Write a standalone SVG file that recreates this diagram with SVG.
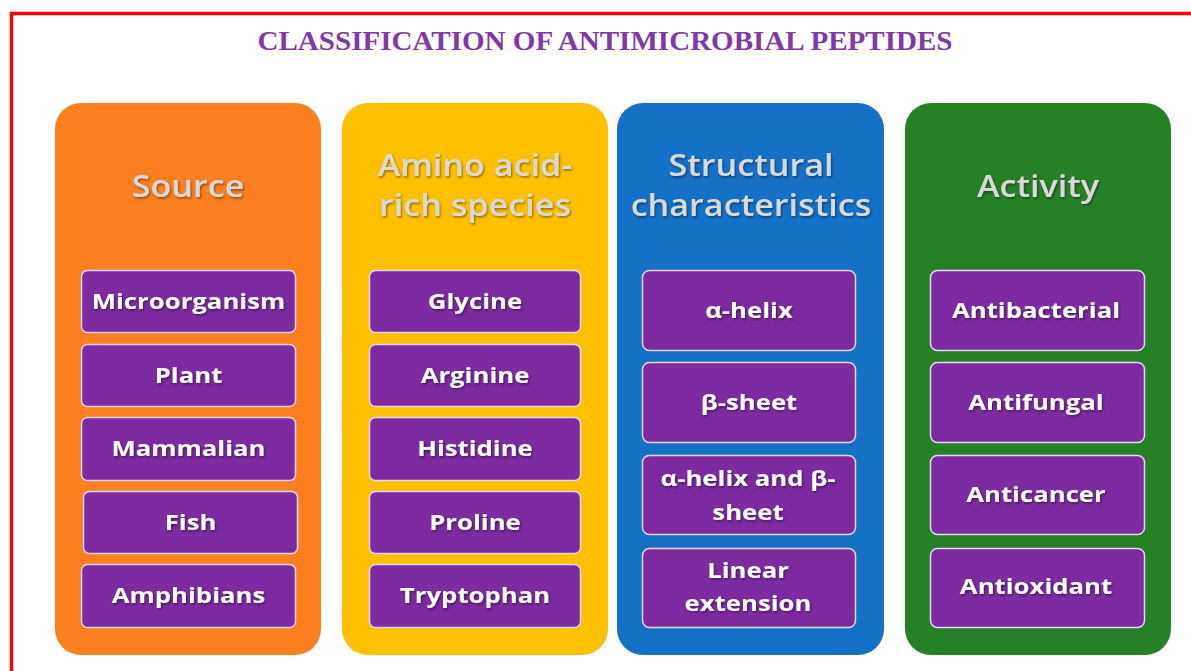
<svg xmlns="http://www.w3.org/2000/svg" width="1191" height="671" viewBox="0 0 1191 671">
<defs>
<filter id="sh" x="-10%" y="-20%" width="120%" height="140%">
<feDropShadow dx="1" dy="1.5" stdDeviation="0.8" flood-color="#000" flood-opacity="0.45"/>
</filter>
<style>
.col{stroke:none}
.item{fill:#7E2AA0;stroke:#E6D8F2;stroke-width:1.5}
.hd{font-family:"Open Sans","Liberation Sans",sans-serif;font-size:30.5px;font-weight:600;fill:#D9D9D9;text-anchor:middle;filter:url(#sh)}
.it{font-family:"Open Sans","Liberation Sans",sans-serif;font-size:22px;font-weight:700;fill:#FFFFFF;text-anchor:middle;filter:url(#sh)}
.title{font-family:"Liberation Serif",serif;font-size:27px;font-weight:700;fill:#8338A8;text-anchor:middle}
</style>
</defs>
<rect width="1191" height="671" fill="#FFFFFF"/>
<path d="M11.5 671 V13.5 H1191" fill="none" stroke="#FF0000" stroke-width="3.5"/>
<text class="title" x="605" y="50" textLength="695" lengthAdjust="spacingAndGlyphs">CLASSIFICATION OF ANTIMICROBIAL PEPTIDES</text>

<g id="source">
<rect class="col" x="55" y="103" width="266" height="552" rx="26" fill="#FD7F20"/>
<text class="hd" transform="translate(188,197) scale(1.12,1)">Source</text>
<g id="microorganism"><rect class="item" x="81.5" y="270.5" width="214" height="62" rx="6"/><text class="it" transform="translate(188.5,309) scale(1.17,1)">Microorganism</text></g>
<g id="plant"><rect class="item" x="81.5" y="344.5" width="214" height="62" rx="6"/><text class="it" transform="translate(188.5,383) scale(1.17,1)">Plant</text></g>
<g id="mammalian"><rect class="item" x="81.5" y="417.5" width="214" height="63" rx="6"/><text class="it" transform="translate(188.5,456) scale(1.17,1)">Mammalian</text></g>
<g id="fish"><rect class="item" x="83.5" y="491.5" width="214" height="62" rx="6"/><text class="it" transform="translate(190.5,530) scale(1.17,1)">Fish</text></g>
<g id="amphibians"><rect class="item" x="81.5" y="564.5" width="214" height="63" rx="6"/><text class="it" transform="translate(188.5,603) scale(1.17,1)">Amphibians</text></g>
</g>

<g id="amino">
<rect class="col" x="342" y="103" width="266" height="552" rx="26" fill="#FFC000"/>
<text class="hd" transform="translate(475,176) scale(1.12,1)">Amino acid-</text>
<text class="hd" transform="translate(475,216) scale(1.12,1)">rich species</text>
<g id="glycine"><rect class="item" x="369.5" y="270.5" width="211" height="62" rx="6"/><text class="it" transform="translate(475,309) scale(1.17,1)">Glycine</text></g>
<g id="arginine"><rect class="item" x="369.5" y="344.5" width="211" height="62" rx="6"/><text class="it" transform="translate(475,383) scale(1.17,1)">Arginine</text></g>
<g id="histidine"><rect class="item" x="369.5" y="417.5" width="211" height="63" rx="6"/><text class="it" transform="translate(475,456) scale(1.17,1)">Histidine</text></g>
<g id="proline"><rect class="item" x="369.5" y="491.5" width="211" height="62" rx="6"/><text class="it" transform="translate(475,530) scale(1.17,1)">Proline</text></g>
<g id="tryptophan"><rect class="item" x="369.5" y="564.5" width="211" height="63" rx="6"/><text class="it" transform="translate(475,603) scale(1.17,1)">Tryptophan</text></g>
</g>

<g id="structural">
<rect class="col" x="617" y="103" width="267" height="552" rx="26" fill="#1571C6"/>
<text class="hd" transform="translate(751,176) scale(1.12,1)">Structural</text>
<text class="hd" transform="translate(751,216) scale(1.12,1)">characteristics</text>
<g id="alpha"><rect class="item" x="642.5" y="270.5" width="213" height="80" rx="7"/><text class="it" transform="translate(749,318) scale(1.17,1)">α-helix</text></g>
<g id="beta"><rect class="item" x="642.5" y="362.5" width="213" height="80" rx="7"/><text class="it" transform="translate(749,410) scale(1.17,1)">β-sheet</text></g>
<g id="alphabeta"><rect class="item" x="642.5" y="455.5" width="213" height="79" rx="7"/><text class="it" transform="translate(748,486) scale(1.17,1)">α-helix and β-</text><text class="it" transform="translate(748,520) scale(1.17,1)">sheet</text></g>
<g id="linear"><rect class="item" x="642.5" y="548.5" width="213" height="79" rx="7"/><text class="it" transform="translate(748,578) scale(1.17,1)">Linear</text><text class="it" transform="translate(748,611) scale(1.17,1)">extension</text></g>
</g>

<g id="activity">
<rect class="col" x="905" y="103" width="266" height="552" rx="26" fill="#268126"/>
<text class="hd" transform="translate(1038,197) scale(1.12,1)">Activity</text>
<g id="antibacterial"><rect class="item" x="930.5" y="270.5" width="214" height="80" rx="7"/><text class="it" transform="translate(1036,318) scale(1.17,1)">Antibacterial</text></g>
<g id="antifungal"><rect class="item" x="930.5" y="362.5" width="214" height="80" rx="7"/><text class="it" transform="translate(1036,410) scale(1.17,1)">Antifungal</text></g>
<g id="anticancer"><rect class="item" x="930.5" y="455.5" width="214" height="79" rx="7"/><text class="it" transform="translate(1036,502) scale(1.17,1)">Anticancer</text></g>
<g id="antioxidant"><rect class="item" x="930.5" y="548.5" width="214" height="79" rx="7"/><text class="it" transform="translate(1036,594) scale(1.17,1)">Antioxidant</text></g>
</g>
<g id="connectors"></g>
</svg>
